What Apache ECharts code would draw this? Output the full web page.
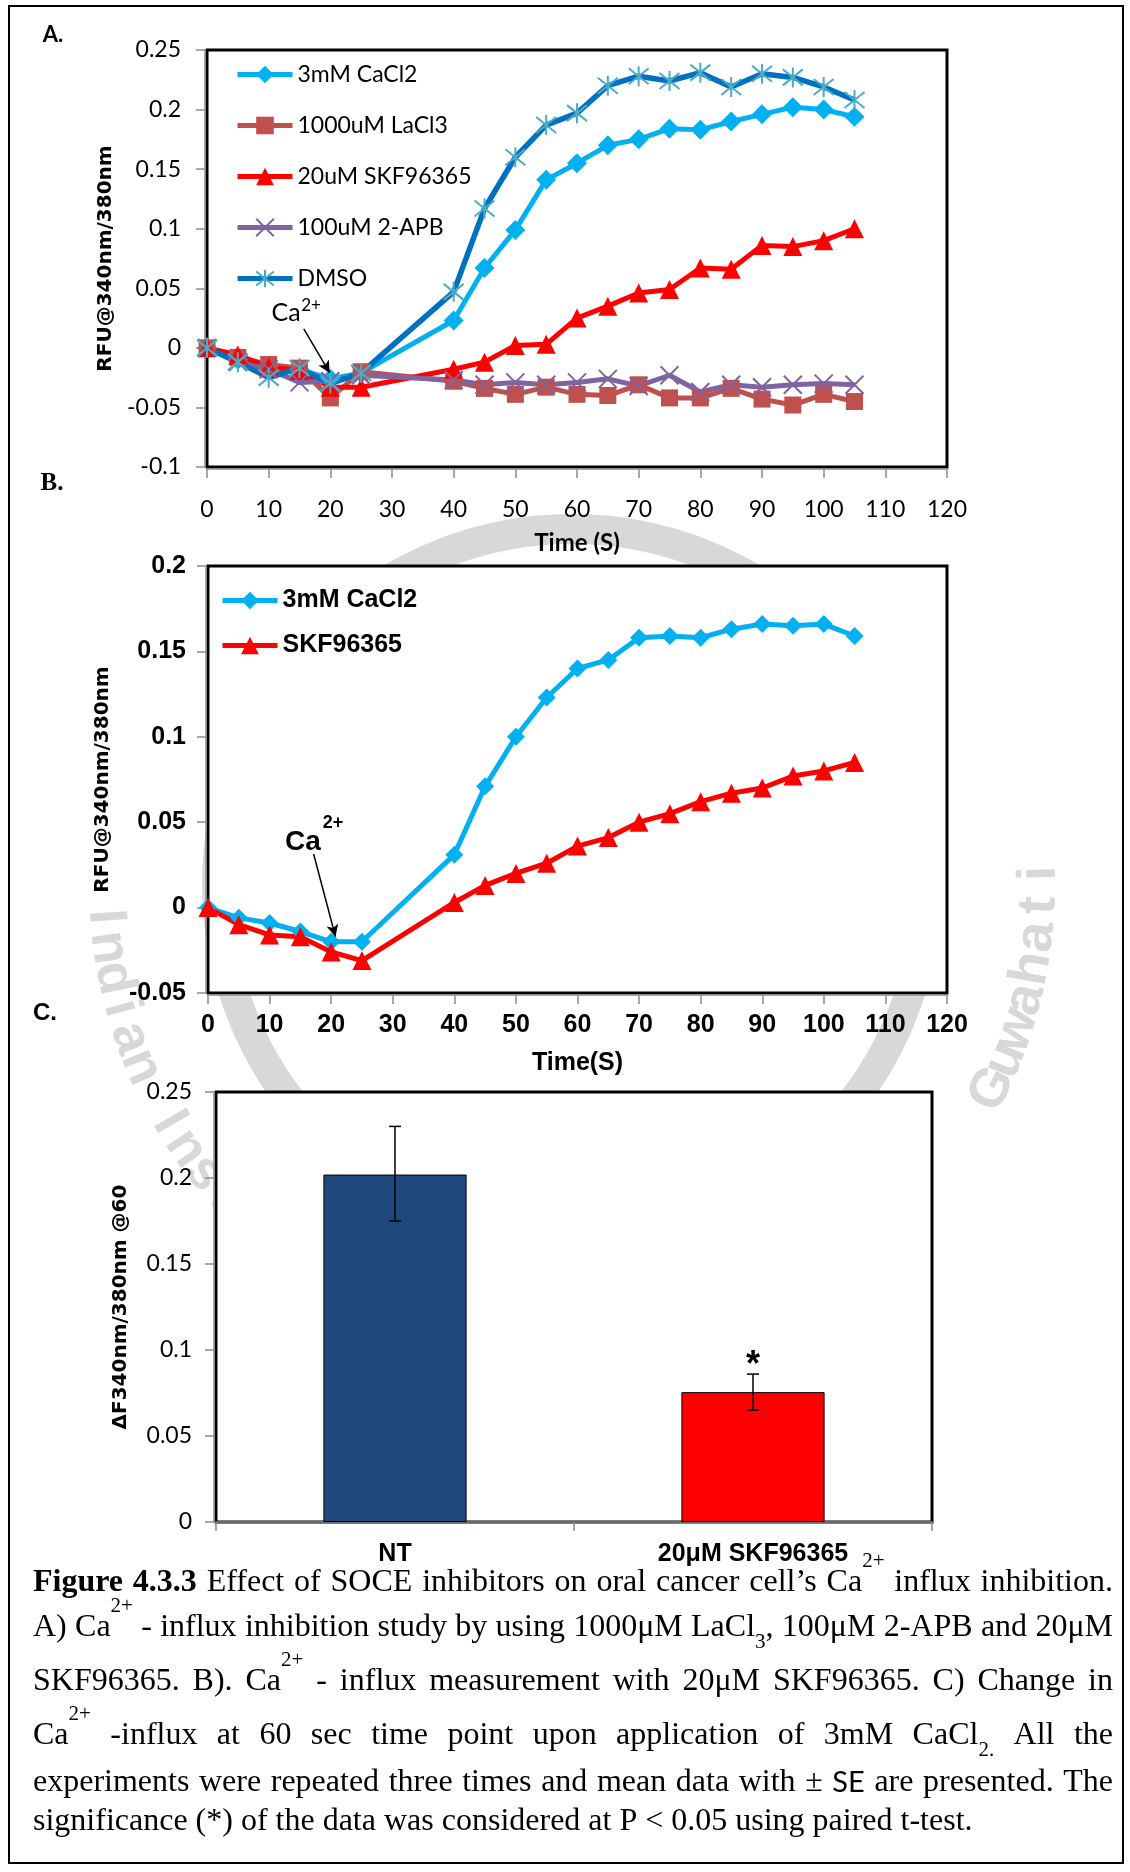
<!DOCTYPE html>
<html>
<head>
<meta charset="utf-8">
<script src="https://cdn.jsdelivr.net/npm/echarts@6/dist/echarts.min.js"></script>
<style>
html, body { margin: 0; padding: 0; background: #fff; }
#main { width: 1130px; height: 1872px; }
</style>
</head>
<body>
<div id="main"></div>
<script>
// panel A: influx with inhibitors
var timeA = [0, 5, 10, 15, 20, 25, 40, 45, 50, 55, 60, 65, 70, 75, 80, 85, 90, 95, 100, 105];
var cacl2A = [0, -0.010, -0.015, -0.018, -0.026, -0.021, 0.023, 0.067, 0.099, 0.141, 0.155, 0.170, 0.175, 0.184, 0.183, 0.190, 0.196, 0.202, 0.200, 0.194];
var lacl3A = [0, -0.008, -0.014, -0.017, -0.042, -0.020, -0.028, -0.034, -0.039, -0.033, -0.039, -0.040, -0.031, -0.042, -0.042, -0.034, -0.043, -0.048, -0.039, -0.045];
var skfA = [0, -0.006, -0.016, -0.019, -0.033, -0.033, -0.018, -0.012, 0.002, 0.003, 0.025, 0.035, 0.046, 0.049, 0.067, 0.066, 0.086, 0.085, 0.090, 0.100];
var apbA = [0, -0.012, -0.018, -0.029, -0.028, -0.023, -0.027, -0.031, -0.029, -0.031, -0.029, -0.026, -0.032, -0.023, -0.037, -0.031, -0.033, -0.031, -0.030, -0.031];
var dmsoA = [0, -0.012, -0.025, -0.017, -0.030, -0.021, 0.047, 0.117, 0.160, 0.187, 0.197, 0.220, 0.228, 0.224, 0.231, 0.219, 0.230, 0.227, 0.219, 0.208];

// panel B: SKF96365 only
var timeB = [0, 5, 10, 15, 20, 25, 40, 45, 50, 55, 60, 65, 70, 75, 80, 85, 90, 95, 100, 105];
var cacl2B = [0, -0.006, -0.009, -0.014, -0.020, -0.020, 0.031, 0.071, 0.100, 0.123, 0.140, 0.145, 0.158, 0.159, 0.158, 0.163, 0.166, 0.165, 0.166, 0.159];
var skfB = [0, -0.010, -0.016, -0.017, -0.026, -0.031, 0.003, 0.013, 0.020, 0.026, 0.036, 0.041, 0.050, 0.055, 0.062, 0.067, 0.070, 0.077, 0.080, 0.085];

// panel C: change at 60 s
var barCats = ['NT', '20μM SKF96365'];
var barVals = [0.202, 0.0755];
var errLow = [0.175, 0.065];
var errHigh = [0.230, 0.086];
var sigMark = ['', '*'];

// ticks
var xTicks = [0, 10, 20, 30, 40, 50, 60, 70, 80, 90, 100, 110, 120];
var yTicksA = [-0.1, -0.05, 0, 0.05, 0.1, 0.15, 0.2, 0.25];
var yTicksB = [-0.05, 0, 0.05, 0.1, 0.15, 0.2];
var yTicksC = [0, 0.05, 0.1, 0.15, 0.2, 0.25];

// caption
var capLines = [
    '#Figure #4.3.3 Effect of SOCE inhibitors on oral cancer cell’s Ca^{2+} influx inhibition.',
    'A) Ca^{2+} - influx inhibition study by using 1000μM LaCl_{3}, 100μM 2-APB and 20μM',
    'SKF96365. B). Ca^{2+} - influx measurement with 20μM SKF96365. C) Change in',
    'Ca^{2+} -influx at 60 sec time point upon application of 3mM CaCl_{2.} All the',
    'experiments were repeated three times and mean data with ± ~SE are presented. The',
    'significance (*) of the data was considered at P < 0.05 using paired t-test.'
];
var capY = [1583, 1628, 1682, 1736, 1783, 1822];

var GRAY = '#8c8c8c';
var WM = '#d8d8d8';
var myChart = echarts.init(document.getElementById('main'), null, {renderer: 'canvas'});

function num(v) { return String(+v.toFixed(3)); }

function valAxis(ticks, idx, label, extra) {
    return Object.assign({
        gridIndex: idx,
        type: 'value',
        min: ticks[0],
        max: ticks[ticks.length - 1],
        interval: +(ticks[1] - ticks[0]).toFixed(3),
        offset: 2,
        axisLine: {show: true, onZero: false, lineStyle: {color: GRAY, width: 1.5}},
        axisTick: {show: true, length: 9, lineStyle: {color: GRAY, width: 1.5}},
        splitLine: {show: false},
        axisLabel: Object.assign({color: '#000', formatter: num}, label)
    }, extra);
}

function line(name, xs, ys, idx, o) {
    return Object.assign({
        name: name,
        type: 'line',
        xAxisIndex: idx,
        yAxisIndex: idx,
        data: xs.map(function (x, i) { return [x, ys[i]]; }),
        symbol: o.symbol,
        symbolSize: o.size,
        showAllSymbol: true,
        lineStyle: {color: o.line, width: o.width},
        itemStyle: o.item,
        emphasis: {disabled: true}
    }, o.extra || {});
}

function arrowLine(from, to) {
    return {
        silent: true,
        symbol: ['none', 'arrow'],
        symbolSize: [9, 12],
        lineStyle: {color: '#000', width: 1.5, type: 'solid'},
        label: {show: false},
        data: [[{coord: from}, {coord: to}]]
    };
}

function txt(x, y, s, font, extra) {
    return Object.assign({
        type: 'text', x: x, y: y, z: 50,
        style: {text: s, font: font, fill: '#000', align: 'center', verticalAlign: 'middle',
            textAlign: 'center', textVerticalAlign: 'middle'}
    }, extra || {});
}

// justified caption, word by word
function caption() {
    var FR = '32px "Liberation Serif"', FB = 'bold 32px "Liberation Serif"';
    var FS = '21px "Liberation Serif"', FN = '29px Lato';
    var ctx = document.createElement('canvas').getContext('2d');
    var L = 33, R = 1113, out = [];
    capLines.forEach(function (ln, li) {
        var words = ln.split(' ').map(function (w) {
            var font = FR;
            if (w[0] === '#') { font = FB; w = w.slice(1); }
            else if (w[0] === '~') { font = FN; w = w.slice(1); }
            var parts = [], width = 0;
            w.split(/(\^\{[^}]*\}|_\{[^}]*\})/).forEach(function (p) {
                if (!p) return;
                var k = 0, f = font;
                if (p[0] === '^') { k = -22; p = p.slice(2, -1); f = FS; }
                else if (p[0] === '_') { k = 14; p = p.slice(2, -1); f = FS; }
                ctx.font = f;
                parts.push({t: p, f: f, k: k, dx: width});
                width += ctx.measureText(p).width;
            });
            return {parts: parts, w: width};
        });
        var total = words.reduce(function (s, w) { return s + w.w; }, 0);
        ctx.font = FR;
        var gap = li === capLines.length - 1 ? ctx.measureText(' ').width : (R - L - total) / (words.length - 1);
        var x = L;
        words.forEach(function (w) {
            w.parts.forEach(function (p) {
                out.push({
                    type: 'text', x: x + p.dx, y: capY[li] + p.k, z: 50,
                    style: {text: p.t, font: p.f, fill: '#000', align: 'left', verticalAlign: 'middle',
                        textAlign: 'left', textVerticalAlign: 'middle'}
                });
            });
            x += w.w + gap;
        });
    });
    return out;
}

// faint institute seal behind the panels
function watermark() {
    var cx = 572, cy = 884, r = 468, out = [];
    out.push({type: 'circle', z: -10, silent: true, shape: {cx: cx, cy: cy, r: 355},
        style: {fill: 'none', stroke: WM, lineWidth: 30}});
    function arc(s, start, step) {
        s.split('').forEach(function (c, i) {
            var phi = (start + i * step) * Math.PI / 180;
            out.push({type: 'text', z: -10, silent: true,
                x: cx + r * Math.cos(phi), y: cy + r * Math.sin(phi),
                rotation: Math.PI / 2 - phi,
                style: {text: c, font: 'bold 54px "Liberation Sans"', fill: WM, align: 'center',
                    verticalAlign: 'middle', textAlign: 'center', textVerticalAlign: 'middle'}});
        });
    }
    arc('Indian Institute of Technology', 176, -3.8);
    arc('Guwahati', 26, -3.9);
    return out;
}

var fontA = {fontFamily: 'Lato', fontSize: 23};
var fontB = {fontFamily: '"Liberation Sans"', fontWeight: 'bold', fontSize: 25};
var nameFont = {fontFamily: '"DejaVu Sans"', fontWeight: 'bold', fontSize: 20, color: '#000'};

var xSym = 'path://M0,0L10,10M10,0L0,10';
var starSym = 'path://M0,1L10,9M10,1L0,9M5,0L5,10';

var option = {
    backgroundColor: '#fff',
    animation: false,
    grid: [
        {left: 207, top: 50, width: 740, height: 417, show: true, backgroundColor: '#fff', borderColor: '#000', borderWidth: 3},
        {left: 208, top: 566, width: 739, height: 427, show: true, backgroundColor: '#fff', borderColor: '#000', borderWidth: 3},
        {left: 216, top: 1092, width: 716, height: 430, show: true, backgroundColor: '#fff', borderColor: '#000', borderWidth: 3}
    ],
    xAxis: [
        valAxis(xTicks, 0, Object.assign({margin: 29}, fontA), {
            name: 'Time (S)', nameLocation: 'middle', nameGap: 62,
            nameTextStyle: {fontFamily: 'Lato', fontWeight: 'bold', fontSize: 24, color: '#000'}
        }),
        valAxis(xTicks, 1, Object.assign({margin: 18}, fontB), {
            name: 'Time(S)', nameLocation: 'middle', nameGap: 56,
            nameTextStyle: {fontFamily: '"Liberation Sans"', fontWeight: 'bold', fontSize: 25, color: '#000'}
        }),
        {
            gridIndex: 2, type: 'category', data: barCats, offset: 2,
            axisLine: {show: true, lineStyle: {color: GRAY, width: 1.5}},
            axisTick: {show: true, length: 9, lineStyle: {color: GRAY, width: 1.5}},
            axisLabel: Object.assign({margin: 18, color: '#000'}, fontB)
        }
    ],
    yAxis: [
        valAxis(yTicksA, 0, Object.assign({margin: 24}, fontA), {
            name: 'RFU@340nm/380nm', nameLocation: 'middle', nameGap: 73, nameTextStyle: nameFont
        }),
        valAxis(yTicksB, 1, Object.assign({margin: 20}, fontB), {
            name: 'RFU@340nm/380nm', nameLocation: 'middle', nameGap: 93, nameTextStyle: nameFont
        }),
        valAxis(yTicksC, 2, Object.assign({margin: 22}, fontA), {
            name: 'ΔF340nm/380nm @60', nameLocation: 'middle', nameGap: 83, nameTextStyle: nameFont
        })
    ],
    legend: [
        {
            data: ['3mM CaCl2', '1000uM LaCl3', '20uM SKF96365', '100uM 2-APB', 'DMSO'],
            orient: 'vertical', left: 230, top: 58, itemWidth: 55, itemHeight: 22, itemGap: 28,
            lineStyle: {width: 5},
            selectedMode: false, textStyle: {fontFamily: 'Lato', fontSize: 23, color: '#000'}
        },
        {
            data: ['3mM CaCl2', 'SKF96365'],
            orient: 'vertical', left: 215, top: 583, itemWidth: 55, itemHeight: 22, itemGap: 20,
            lineStyle: {width: 5},
            selectedMode: false, textStyle: {fontFamily: '"Liberation Sans"', fontWeight: 'bold', fontSize: 25, color: '#000'}
        }
    ],
    series: [
        line('3mM CaCl2', timeA, cacl2A, 0, {symbol: 'diamond', size: 20, line: '#00B0F0', width: 5,
            item: {color: '#00B0F0'}, extra: {markLine: arrowLine([15.7, 0.016], [19.9, -0.021])}}),
        line('1000uM LaCl3', timeA, lacl3A, 0, {symbol: 'rect', size: 17, line: '#C0504D', width: 5,
            item: {color: '#C0504D'}}),
        line('20uM SKF96365', timeA, skfA, 0, {symbol: 'triangle', size: 19, line: '#FF0000', width: 5,
            item: {color: '#FF0000'}}),
        line('100uM 2-APB', timeA, apbA, 0, {symbol: xSym, size: 18, line: '#8064A2', width: 5,
            item: {color: 'none', borderColor: '#8064A2', borderWidth: 2}}),
        line('DMSO', timeA, dmsoA, 0, {symbol: starSym, size: 20, line: '#0070C0', width: 5.5,
            item: {color: 'none', borderColor: '#4BACC6', borderWidth: 2}}),
        line('3mM CaCl2', timeB, cacl2B, 1, {symbol: 'diamond', size: 18, line: '#00B0F0', width: 5,
            item: {color: '#00B0F0'}, extra: {markLine: arrowLine([17.15, 0.0314], [20.7, -0.017])}}),
        line('SKF96365', timeB, skfB, 1, {symbol: 'triangle', size: 19, line: '#FF0000', width: 5,
            item: {color: '#FF0000'}}),
        {
            type: 'bar', xAxisIndex: 2, yAxisIndex: 2, barWidth: '40%',
            data: barVals.map(function (v, i) {
                return {value: v, itemStyle: {color: ['#1F497D', '#FF0000'][i], borderColor: '#000', borderWidth: 1}};
            }),
            emphasis: {disabled: true}
        },
        {
            type: 'custom', xAxisIndex: 2, yAxisIndex: 2, z: 10,
            data: barCats.map(function (c, i) { return [i, errLow[i], errHigh[i]]; }),
            renderItem: function (params, api) {
                var lo = api.coord([api.value(0), api.value(1)]);
                var hi = api.coord([api.value(0), api.value(2)]);
                var st = {stroke: '#000', lineWidth: 1.5};
                var kids = [
                    {type: 'line', shape: {x1: hi[0], y1: hi[1], x2: lo[0], y2: lo[1]}, style: st},
                    {type: 'line', shape: {x1: hi[0] - 6, y1: hi[1], x2: hi[0] + 6, y2: hi[1]}, style: st},
                    {type: 'line', shape: {x1: lo[0] - 6, y1: lo[1], x2: lo[0] + 6, y2: lo[1]}, style: st}
                ];
                var s = sigMark[params.dataIndex];
                if (s) {
                    kids.push({type: 'text', x: hi[0], y: hi[1] - 8,
                        style: {text: s, font: 'bold 36px "Liberation Sans"', fill: '#000', align: 'center',
                            verticalAlign: 'middle', textAlign: 'center', textVerticalAlign: 'middle'}});
                }
                return {type: 'group', children: kids};
            }
        }
    ],
    graphic: [].concat(
        watermark(),
        [
            txt(53, 35, 'A.', 'bold 22px Lato'),
            txt(52, 484, 'B.', 'bold 25px "Liberation Serif"'),
            txt(45, 1013, 'C.', 'bold 24px "Liberation Sans"'),
            txt(286, 313, 'Ca', '25px Lato'),
            txt(311, 306, '2+', '17px Lato'),
            txt(303, 842, 'Ca', 'bold 28px "Liberation Sans"'),
            txt(333, 823, '2+', 'bold 18px "Liberation Sans"'),
            {type: 'rect', z: 60, silent: true, shape: {x: 9, y: 6, width: 1114, height: 1857},
                style: {fill: 'none', stroke: '#000', lineWidth: 2}}
        ],
        caption()
    )
};
myChart.setOption(option);
window.onresize = function () {
    myChart.resize();
};
</script>
</body>
</html>
